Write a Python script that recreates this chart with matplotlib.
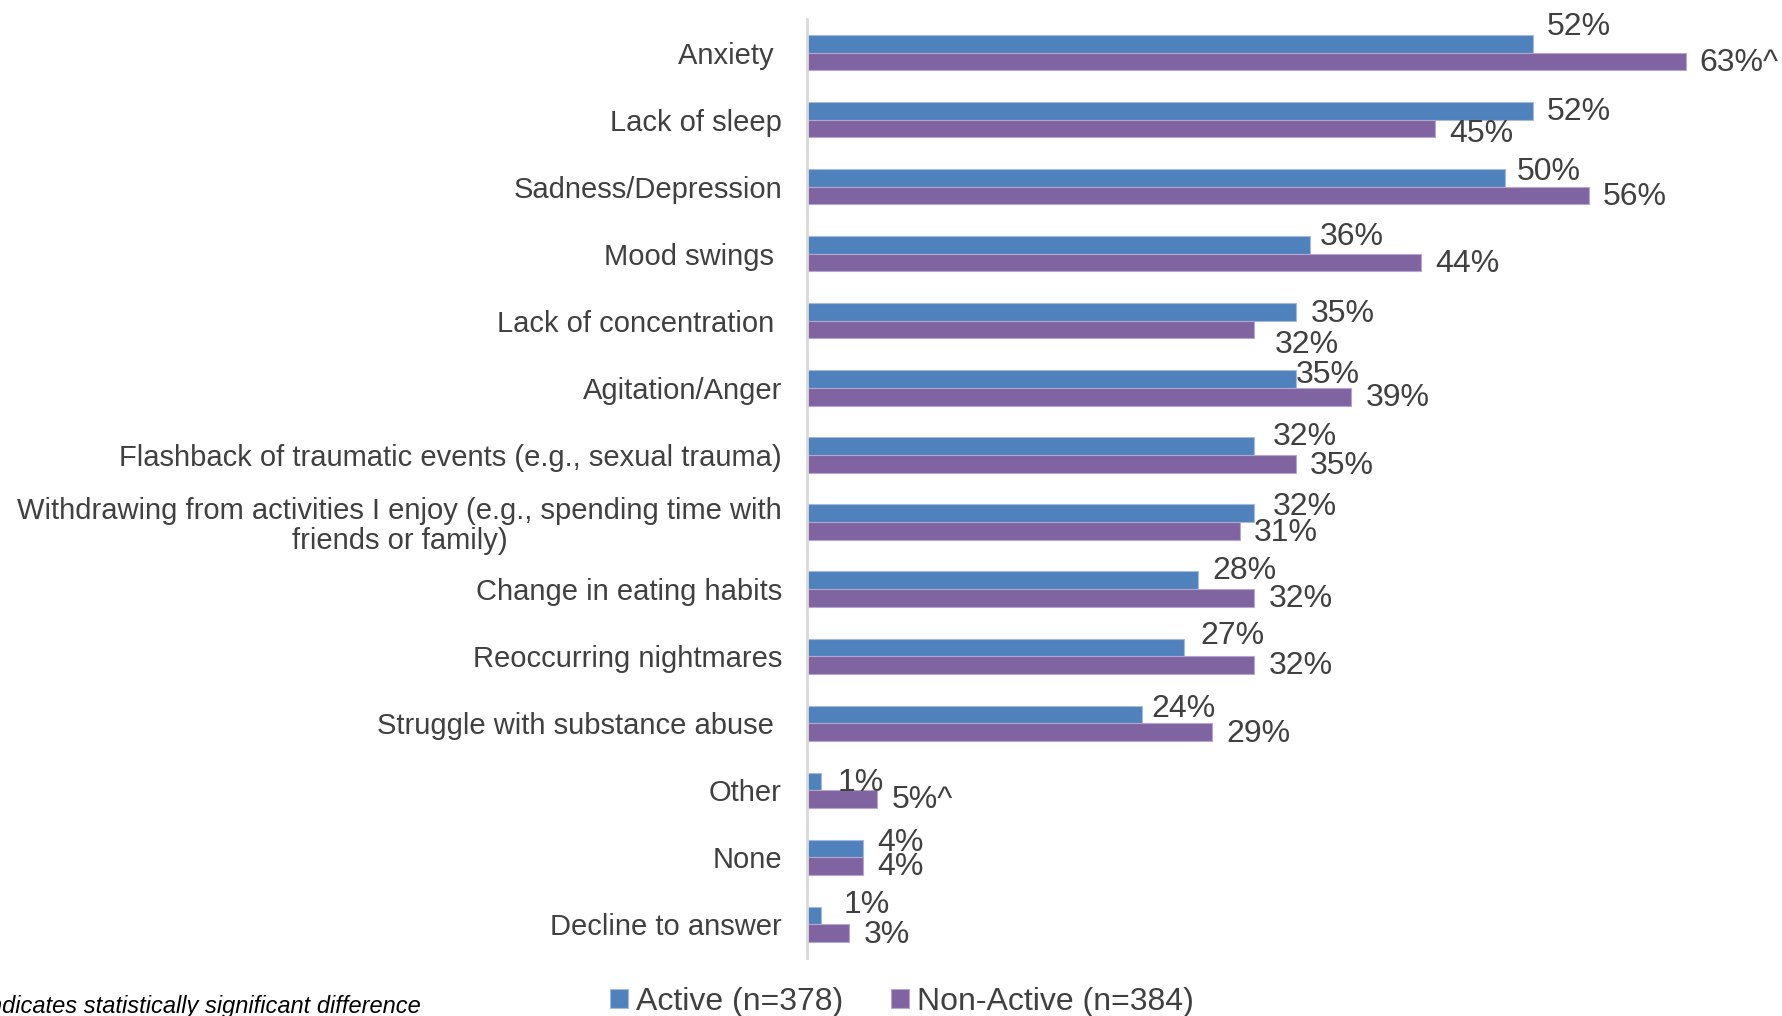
import matplotlib.pyplot as plt
import numpy as np

plt.rcParams['font.family'] = ['Liberation Sans', 'DejaVu Sans']

categories = [
    "Anxiety ",
    "Lack of sleep",
    "Sadness/Depression",
    "Mood swings ",
    "Lack of concentration ",
    "Agitation/Anger",
    "Flashback of traumatic events (e.g., sexual trauma)",
    "Withdrawing from activities I enjoy (e.g., spending time with\nfriends or family)",
    "Change in eating habits",
    "Reoccurring nightmares",
    "Struggle with substance abuse ",
    "Other",
    "None",
    "Decline to answer",
]
active = [52, 52, 50, 36, 35, 35, 32, 32, 28, 27, 24, 1, 4, 1]
non_active = [63, 45, 56, 44, 32, 39, 35, 31, 32, 32, 29, 5, 4, 3]
# ^ marks a statistically significant difference between the groups
active_sig = [False] * 14
non_active_sig = [False] * 14
non_active_sig[0] = True
non_active_sig[11] = True

# hand-placed label nudges (pixels, +y is up)
active_dx = [0, 0, -2, -4, 1, -14, 5, 5, 0, 2, -5, 3, 0, 9]
active_dy = [17, -1, 6, 8, -2, 4, 9, 6, 9, 11, 5, -1, 6, 11]
non_active_dx = [-1, 0, 0, 0, 7, 0, 0, 0, 1, 1, 1, 1, 0, 1]
non_active_dy = [-2, -6, -2, -1, -15, -1, -2, -2, -1, -1, -2, -1, -1, -2]

blue = '#4F81BD'
purple = '#8064A2'
txt = '#404040'

fig = plt.figure(figsize=(17.83, 10.16), dpi=100)
ax = fig.add_axes([807 / 1783, 58 / 1016, 976 / 1783, 939 / 1016])

y = np.arange(len(categories))
h = 0.263
ax.barh(y - h / 2, active, height=h, color=blue, edgecolor='#A7B9DB', linewidth=0.8, label='Active (n=378)')
ax.barh(y + h / 2, non_active, height=h, color=purple, edgecolor='#B5A6CC', linewidth=0.8, label='Non-Active (n=384)')

for i in range(len(categories)):
    lab = f"{active[i]}%" + ("^" if active_sig[i] else "")
    ax.annotate(lab, (active[i], y[i] - h / 2), xytext=(14 + active_dx[i], active_dy[i]),
                textcoords='offset pixels', va='center', ha='left', fontsize=23, color=txt)
    lab = f"{non_active[i]}%" + ("^" if non_active_sig[i] else "")
    ax.annotate(lab, (non_active[i], y[i] + h / 2), xytext=(14 + non_active_dx[i], non_active_dy[i]),
                textcoords='offset pixels', va='center', ha='left', fontsize=23, color=txt)

ax.set_xlim(0, 976 / 13.96)
ax.set_ylim(len(categories) - 0.5, -0.5)
ax.set_yticks(y)
ax.set_yticklabels(categories, fontsize=21, color=txt, multialignment='center', linespacing=1.1)
ax.tick_params(axis='y', length=0, pad=18)
ax.set_xticks([])
for s in ['top', 'right', 'bottom']:
    ax.spines[s].set_visible(False)
ax.spines['left'].set_color('#D9D9D9')
ax.spines['left'].set_linewidth(2)

fig.legend(loc='center', bbox_to_anchor=(902 / 1783, 1 - 1002 / 1016), ncol=2, frameon=False,
           fontsize=23, labelcolor=txt, handlelength=0.55, handleheight=0.55, handletextpad=0.25,
           columnspacing=1.5, borderpad=0)

fig.text(421 / 1783, 3 / 1016, "^ indicates statistically significant difference", ha='right',
         va='baseline', fontsize=17, style='italic', color='black')

fig.savefig('out.png', dpi=100)
